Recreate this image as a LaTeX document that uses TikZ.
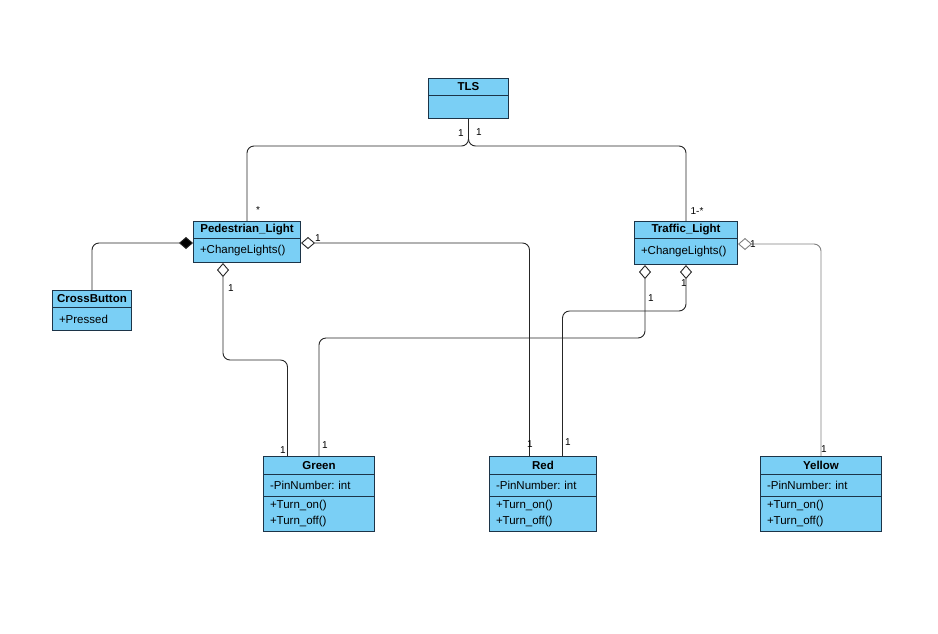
\documentclass[tikz,border=0pt]{standalone}
\usepackage{fontspec}
\setmainfont{Liberation Sans}
\usetikzlibrary{arrows.meta}
\definecolor{classfill}{RGB}{122,207,245}
\definecolor{classline}{RGB}{28,52,72}

\begin{document}
\begin{tikzpicture}[x=1pt,y=-1pt,
  classhead/.style={draw=classline, fill=classfill, line width=1pt, anchor=north west, inner sep=0pt, font=\fontsize{11.5}{16}\selectfont\bfseries, align=center},
  classpart/.style={draw=classline, fill=classfill, line width=1pt, anchor=north west, inner xsep=6.5pt, inner ysep=0pt, font=\fontsize{11.5}{16}\selectfont\frenchspacing, align=left},
  conn/.style={line width=0.9pt, draw=black!85, rounded corners=7pt},
  agg/.style={conn, {Diamond[open, fill=white, length=14pt, width=12pt]}-},
  comp/.style={conn, {Diamond[fill=black, length=14pt, width=12pt]}-},
  mult/.style={font=\fontsize{10}{12}\selectfont, inner sep=0pt}]
\fill[white] (0,0) rectangle (938,633);
\useasboundingbox (0,0) rectangle (938,633);

% classes
\node[classhead, text width=80pt, minimum height=17pt] (tls) at (428,78) {TLS};
\node[classpart, text width=67pt, minimum height=23pt] (tls-body) at (428,95) {};

\node[classhead, text width=107pt, minimum height=17pt] (ped) at (193,221) {Pedestrian\_Light};
\node[classpart, text width=94pt, minimum height=24pt] (ped-ops) at (193,238) {+ChangeLights()};

\node[classhead, text width=103pt, minimum height=17pt] (tl) at (634,221) {Traffic\_Light};
\node[classpart, text width=90pt, minimum height=26pt] (tl-ops) at (634,238) {+ChangeLights()};

\node[classhead, text width=79pt, minimum height=17pt] (cb) at (52,290) {CrossButton};
\node[classpart, text width=66pt, minimum height=23pt] (cb-ops) at (52,307) {+Pressed};

\node[classhead, text width=111pt, minimum height=18pt] (green) at (263,456) {Green};
\node[classpart, text width=98pt, minimum height=22pt] (green-attr) at (263,474) {-PinNumber: int};
\node[classpart, text width=98pt, minimum height=35pt] (green-ops) at (263,496) {+Turn\_on()\\+Turn\_off()};

\node[classhead, text width=107pt, minimum height=18pt] (red) at (489,456) {Red};
\node[classpart, text width=94pt, minimum height=22pt] (red-attr) at (489,474) {-PinNumber: int};
\node[classpart, text width=94pt, minimum height=35pt] (red-ops) at (489,496) {+Turn\_on()\\+Turn\_off()};

\node[classhead, text width=121pt, minimum height=18pt] (yel) at (760,456) {Yellow};
\node[classpart, text width=108pt, minimum height=22pt] (yel-attr) at (760,474) {-PinNumber: int};
\node[classpart, text width=108pt, minimum height=35pt] (yel-ops) at (760,496) {+Turn\_on()\\+Turn\_off()};

% associations
\draw[conn] (tls-body.south) -- ++(0,27) -| (ped.north);
\draw[conn] (tls-body.south) -- ++(0,27) -| (tl.north);
\draw[comp] ([yshift=-4pt]ped.south west) -| (cb.north);
\draw[agg] ([yshift=-4pt]ped.south east) -| ([xshift=-13.5pt]red.north);
\draw[agg] ([xshift=30pt]ped-ops.south west) -- ++(0,97) -| ([xshift=-31.5pt]green.north);
\draw[agg] ([xshift=11pt]tl-ops.south west) -- ++(0,73) -| (green.north);
\draw[agg] (tl-ops.south) -- ++(0,46) -| ([xshift=19.5pt]red.north);
\draw[agg, draw=gray] ([yshift=-5pt]tl.south east) -| (yel.north);

% multiplicities
\node[mult] (m-tls-l) at (461,133) {1};
\node[mult] (m-tls-r) at (479,132) {1};
\node[mult] (m-ped) at (258,210) {*};
\node[mult] (m-tl) at (697,211) {1-*};
\node[mult] (m-ped-r) at (318,238) {1};
\node[mult] (m-ped-b) at (231,288) {1};
\node[mult] (m-green-l) at (283,450) {1};
\node[mult] (m-green-r) at (325,445) {1};
\node[mult] (m-red-l) at (530,444) {1};
\node[mult] (m-red-r) at (568,442) {1};
\node[mult] (m-tl-bl) at (651,298) {1};
\node[mult] (m-tl-br) at (684,283) {1};
\node[mult] (m-tl-r) at (753,244) {1};
\node[mult] (m-yel) at (824,449) {1};
\end{tikzpicture}
\end{document}
